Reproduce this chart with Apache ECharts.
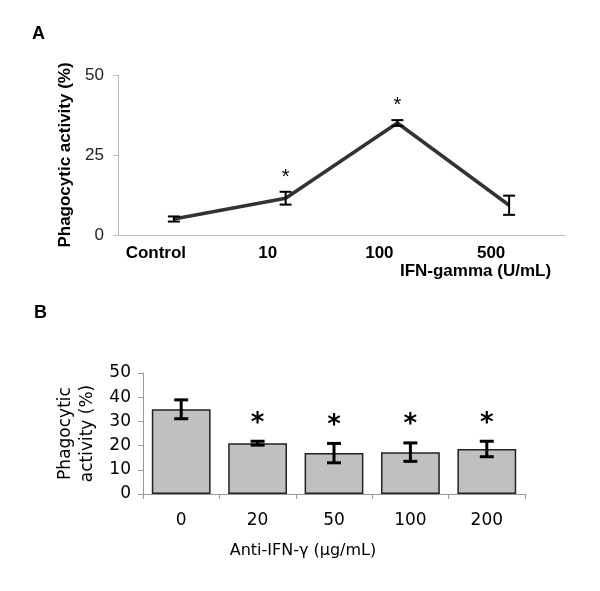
<!DOCTYPE html>
<html><head><meta charset="utf-8">
<script src="https://cdn.jsdelivr.net/npm/echarts@6/dist/echarts.min.js"></script>
<style>html,body{margin:0;padding:0;background:#fff}#c{width:600px;height:591px}</style>
</head><body><div id="c"></div>
<script>
// Panel A data
const catA = ['Control', '10', '100', '500'];
const meanA = [5.0, 11.5, 35.0, 9.3];
const errA = [0.8, 2.0, 0.9, 3.0];
const sigA = [false, true, true, false];
const ticksA = [0, 25, 50];
// Panel B data
const catB = ['0', '20', '50', '100', '200'];
const meanB = [35.0, 21.0, 16.9, 17.3, 18.6];
const errB = [3.9, 0.8, 4.0, 3.8, 3.2];
const sigB = [false, true, true, true, true];
const ticksB = [0, 10, 20, 30, 40, 50];

const FA = 'Liberation Sans';
const FB = 'DejaVu Sans';

function errData(mean, err, sig) {
  return mean.map((m, i) => [i, m, err[i], sig[i] ? 1 : 0]);
}

function makeErr(hw, lw) {
  return function (params, api) {
    const i = api.value(0), m = api.value(1), e = api.value(2);
    const t = api.coord([i, m + e]);
    const b = api.coord([i, m - e]);
    const st = { stroke: '#000', lineWidth: lw };
    return { type: 'group', children: [
      { type: 'line', shape: { x1: t[0], y1: t[1], x2: b[0], y2: b[1] }, style: st },
      { type: 'line', shape: { x1: t[0] - hw, y1: t[1], x2: t[0] + hw, y2: t[1] }, style: st },
      { type: 'line', shape: { x1: b[0] - hw, y1: b[1], x2: b[0] + hw, y2: b[1] }, style: st }
    ]};
  };
}

function makeStar(gap, size, weight, font) {
  return function (params, api) {
    if (!api.value(3)) return null;
    const i = api.value(0), m = api.value(1), e = api.value(2);
    const t = api.coord([i, m + e]);
    return { type: 'text', style: { text: '*', x: t[0], y: t[1] - gap + size * 0.22,
      fontSize: size, fontWeight: weight, fontFamily: font, fill: '#000',
      align: 'center', verticalAlign: 'middle' } };
  };
}

const chart = echarts.init(document.getElementById('c'), null, { renderer: 'canvas' });
chart.setOption({
  animation: false,
  graphic: [
    { type: 'text', left: 32, top: 25, style: { text: 'A', fontSize: 18, fontWeight: 'bold', fontFamily: FA, fill: '#000' } },
    { type: 'text', left: 34, top: 304, style: { text: 'B', fontSize: 18, fontWeight: 'bold', fontFamily: FA, fill: '#000' } }
  ],
  grid: [
    { left: 118, top: 75, width: 447, height: 160 },
    { left: 143, top: 373, width: 382, height: 121 }
  ],
  xAxis: [
    { type: 'category', gridIndex: 0, data: catA, boundaryGap: true,
      axisLine: { lineStyle: { color: '#bbb', width: 1 } }, axisTick: { show: false },
      axisLabel: { color: '#000', fontSize: 17, fontWeight: 'bold', fontFamily: FA, margin: 10, padding: [0, 36, 0, 0] },
      name: 'IFN-gamma (U/mL)', nameLocation: 'middle', nameGap: 24,
      nameTextStyle: { color: '#000', fontSize: 17, fontWeight: 'bold', fontFamily: FA, padding: [0, 0, 0, 268] } },
    { type: 'category', gridIndex: 1, data: catB, boundaryGap: true,
      axisLine: { lineStyle: { color: '#999', width: 1 } },
      axisTick: { show: true, length: 5, lineStyle: { color: '#999' } },
      axisLabel: { color: '#000', fontSize: 17, fontFamily: FB, margin: 18 },
      name: 'Anti-IFN-\u03b3 (\u03bcg/mL)', nameLocation: 'middle', nameGap: 49,
      nameTextStyle: { color: '#000', fontSize: 16, fontFamily: FB, padding: [0, 62, 0, 0] } }
  ],
  yAxis: [
    { type: 'value', gridIndex: 0, min: ticksA[0], max: ticksA[ticksA.length - 1], interval: 25,
      axisLine: { show: true, lineStyle: { color: '#bbb', width: 1 } },
      axisTick: { show: true, length: 5, lineStyle: { color: '#bbb' } },
      splitLine: { show: false },
      axisLabel: { color: '#222', fontSize: 17, fontFamily: FA, margin: 14 },
      name: 'Phagocytic activity (%)', nameLocation: 'middle', nameGap: 43,
      nameTextStyle: { color: '#000', fontSize: 17, fontWeight: 'bold', fontFamily: FA } },
    { type: 'value', gridIndex: 1, min: ticksB[0], max: ticksB[ticksB.length - 1], interval: 10,
      axisLine: { show: true, lineStyle: { color: '#999', width: 1 } },
      axisTick: { show: true, length: 5, lineStyle: { color: '#999' } },
      splitLine: { show: false },
      axisLabel: { color: '#000', fontSize: 17, fontFamily: FB, margin: 12 },
      name: 'Phagocytic\nactivity (%)', nameLocation: 'middle', nameGap: 37,
      nameTextStyle: { color: '#000', fontSize: 17, fontFamily: FB, lineHeight: 22 } }
  ],
  series: [
    { type: 'line', xAxisIndex: 0, yAxisIndex: 0, data: meanA, symbol: 'none',
      lineStyle: { color: '#333', width: 3.5 }, z: 2 },
    { type: 'custom', xAxisIndex: 0, yAxisIndex: 0, data: errData(meanA, errA, sigA),
      renderItem: makeErr(6, 2), z: 3 },
    { type: 'custom', xAxisIndex: 0, yAxisIndex: 0, data: errData(meanA, errA, sigA),
      renderItem: makeStar(19, 20, 'normal', FA), z: 3 },
    { type: 'bar', xAxisIndex: 1, yAxisIndex: 1, data: meanB, barCategoryGap: '23%',
      itemStyle: { color: '#c0c0c0', borderColor: '#222', borderWidth: 1.5 }, z: 2 },
    { type: 'custom', xAxisIndex: 1, yAxisIndex: 1, data: errData(meanB, errB, sigB),
      renderItem: makeErr(7, 3), z: 3 },
    { type: 'custom', xAxisIndex: 1, yAxisIndex: 1, data: errData(meanB, errB, sigB),
      renderItem: makeStar(23, 26, 'bold', FB), z: 3 }
  ]
});
</script></body></html>
